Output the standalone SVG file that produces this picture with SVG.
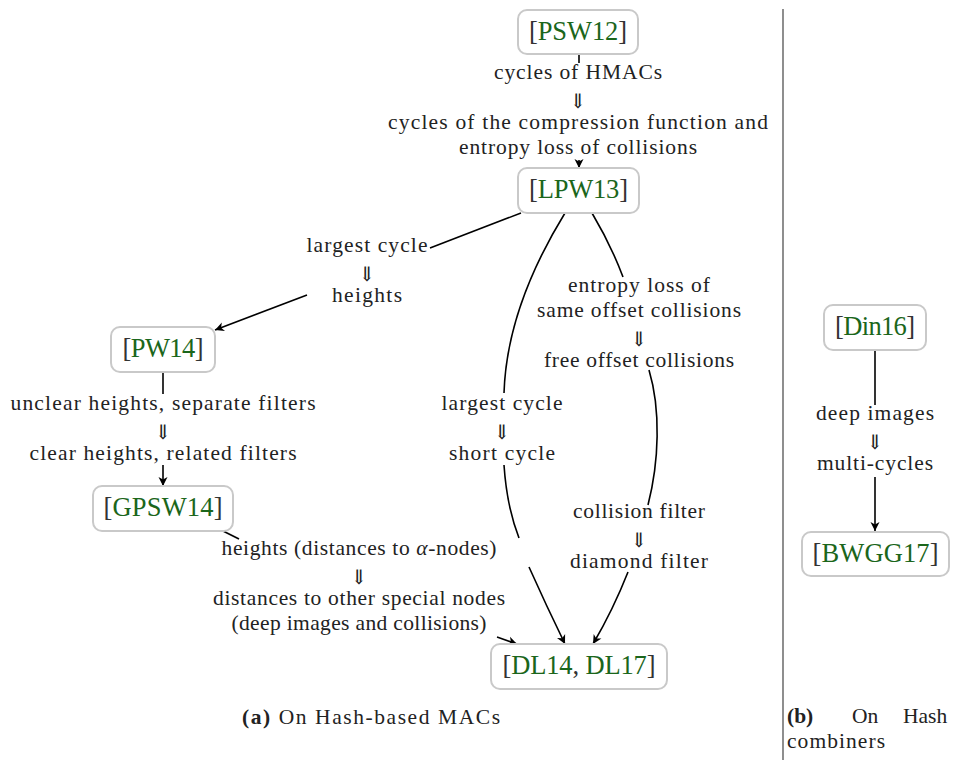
<svg xmlns="http://www.w3.org/2000/svg" width="955" height="760" viewBox="0 0 955 760">
<style>
  .box { fill: #ffffff; stroke: #c9c9c9; stroke-width: 2; }
  .ref { fill: #1b661b; }
  .edge { fill: none; stroke: #000000; stroke-width: 1.6; }
  .sep { stroke: #444444; stroke-width: 1.2; }
  .dn { font-size: 20px; }
</style>
<defs>
  <marker id="arrow" viewBox="-10 -6 12 12" markerWidth="12" markerHeight="12" refX="0" refY="0" orient="auto" markerUnits="userSpaceOnUse">
    <path d="M0,0 L-9,-4.5 L-6.5,0 L-9,4.5 Z" fill="#000000"/>
  </marker>
</defs>
<rect width="955" height="760" fill="#ffffff"/>

<line class="sep" x1="783" y1="9" x2="783" y2="760"/>

<g id="connectors">
  <path class="edge" d="M579,55 L579,63"/>
  <path class="edge" d="M579,160 L579,168" marker-end="url(#arrow)"/>
  <path class="edge" d="M521,213 L430,248"/>
  <path class="edge" d="M307,295 L215,330" marker-end="url(#arrow)"/>
  <path class="edge" d="M565,213 C530,270 506,330 504,393"/>
  <path class="edge" d="M504,465 C506,495 512,520 519,538"/>
  <path class="edge" d="M529,567 Q546,605 565,644" marker-end="url(#arrow)"/>
  <path class="edge" d="M592,213 Q611,245 623,277"/>
  <path class="edge" d="M649,370 C661,410 659,462 648,505"/>
  <path class="edge" d="M628,572 Q613,610 593,644" marker-end="url(#arrow)"/>
  <path class="edge" d="M163,373 L163,394"/>
  <path class="edge" d="M163,465 L163,486" marker-end="url(#arrow)"/>
  <path class="edge" d="M223,531 L239,539"/>
  <path class="edge" d="M497,637 L517,644" marker-end="url(#arrow)"/>
  <path class="edge" d="M875,351 L875,405"/>
  <path class="edge" d="M875,477 L875,531" marker-end="url(#arrow)"/>
</g>

<g id="labels" font-family="Liberation Serif, DejaVu Serif, serif" font-size="21.5" text-anchor="middle" fill="#222222">
  <text x="578" y="79" textLength="168">cycles of HMACs</text>
  <text class="dn" x="578" y="108">⇓</text>
  <text x="578" y="129" textLength="380">cycles of the compression function and</text>
  <text x="578" y="154" textLength="238">entropy loss of collisions</text>

  <text x="367" y="252" textLength="121">largest cycle</text>
  <text class="dn" x="367" y="281">⇓</text>
  <text x="367" y="302" textLength="70">heights</text>

  <text x="163" y="410" textLength="305">unclear heights, separate filters</text>
  <text class="dn" x="163" y="439">⇓</text>
  <text x="163" y="460" textLength="267">clear heights, related filters</text>

  <text x="639" y="292" textLength="142">entropy loss of</text>
  <text x="639" y="317" textLength="204">same offset collisions</text>
  <text class="dn" x="639" y="346">⇓</text>
  <text x="639" y="367" textLength="190">free offset collisions</text>

  <text x="502" y="410" textLength="121">largest cycle</text>
  <text class="dn" x="502" y="439">⇓</text>
  <text x="502" y="460" textLength="106">short cycle</text>

  <text x="639" y="518" textLength="132">collision filter</text>
  <text class="dn" x="639" y="547">⇓</text>
  <text x="639" y="568" textLength="138">diamond filter</text>

  <text x="359" y="555" textLength="275">heights (distances to <tspan font-style="italic">α</tspan>-nodes)</text>
  <text class="dn" x="359" y="584">⇓</text>
  <text x="359" y="605" textLength="292">distances to other special nodes</text>
  <text x="359" y="630" textLength="255">(deep images and collisions)</text>

  <text x="875" y="420" textLength="118">deep images</text>
  <text class="dn" x="875" y="449">⇓</text>
  <text x="875" y="470" textLength="116">multi-cycles</text>
</g>

<g font-family="Liberation Serif, DejaVu Serif, serif" font-size="26.5" text-anchor="middle" fill="#333333">
<g id="PSW12">
  <rect class="box" x="518" y="10" width="120" height="44" rx="9"/>
  <text x="578" y="40" textLength="98">[<tspan class="ref">PSW12</tspan>]</text>
</g>
<g id="LPW13">
  <rect class="box" x="518" y="168" width="121" height="45" rx="9"/>
  <text x="578.5" y="198" textLength="99">[<tspan class="ref">LPW13</tspan>]</text>
</g>
<g id="PW14">
  <rect class="box" x="111" y="327" width="104" height="45" rx="9"/>
  <text x="163" y="357" textLength="81">[<tspan class="ref">PW14</tspan>]</text>
</g>
<g id="GPSW14">
  <rect class="box" x="93" y="486" width="140" height="45" rx="9"/>
  <text x="163" y="516" textLength="119">[<tspan class="ref">GPSW14</tspan>]</text>
</g>
<g id="DL14_DL17">
  <rect class="box" x="491" y="644" width="176" height="45" rx="9"/>
  <text x="579" y="674" textLength="153">[<tspan class="ref">DL14</tspan>, <tspan class="ref">DL17</tspan>]</text>
</g>
<g id="Din16">
  <rect class="box" x="824" y="305" width="102" height="45" rx="9"/>
  <text x="875" y="335" textLength="80">[<tspan class="ref">Din16</tspan>]</text>
</g>
<g id="BWGG17">
  <rect class="box" x="802" y="532" width="147" height="44" rx="9"/>
  <text x="875.5" y="562" textLength="126">[<tspan class="ref">BWGG17</tspan>]</text>
</g>
</g>

<g id="captions" font-family="Liberation Serif, DejaVu Serif, serif" font-size="21.5" fill="#222222">
  <text x="242" y="724" textLength="258"><tspan font-weight="bold">(a)</tspan> On Hash-based MACs</text>
  <text x="787" y="723" font-weight="bold">(b)</text>
  <text x="852" y="723">On</text>
  <text x="903" y="723">Hash</text>
  <text x="787" y="748" textLength="98">combiners</text>
</g>
</svg>
